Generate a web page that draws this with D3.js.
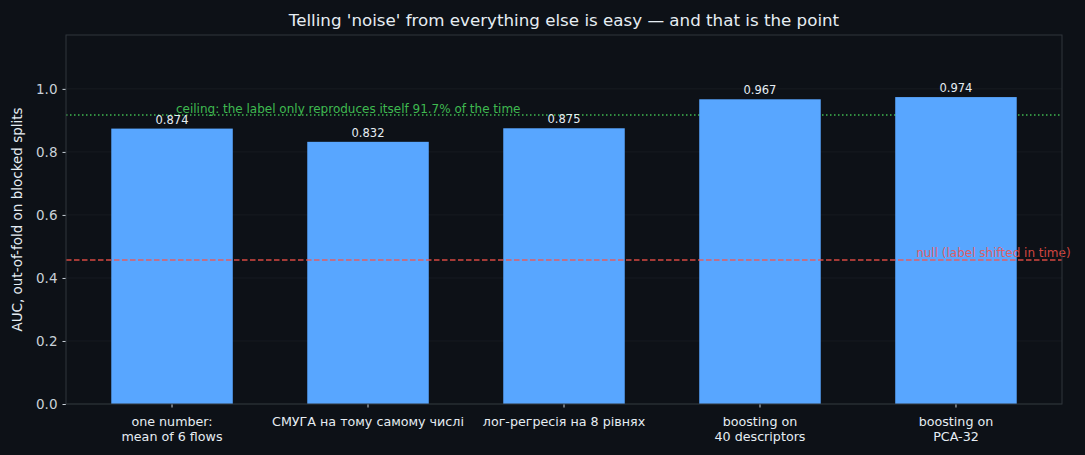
<!DOCTYPE html>
<html>
<head>
<meta charset="utf-8">
<script src="https://cdn.jsdelivr.net/npm/d3@7"></script>
<style>
  html, body { margin: 0; padding: 0; background: #0d1117; }
  svg { display: block; font-family: "DejaVu Sans", sans-serif; }
</style>
</head>
<body>
<div id="chart"></div>
<script>
// data
var categories = [
    "one number:\nmean of 6 flows",
    "СМУГА на тому самому числі",
    "лог-регресія на 8 рівнях",
    "boosting on\n40 descriptors",
    "boosting on\nPCA-32"
];
var aucValues = [0.874, 0.832, 0.875, 0.967, 0.974];
var yTicks = [0.0, 0.2, 0.4, 0.6, 0.8, 1.0];
var ceilingValue = 0.917;
var nullValue = 0.457;
var ceilingText = "ceiling: the label only reproduces itself 91.7% of the time";
var nullText = "null (label shifted in time)";
var titleText = "Telling 'noise' from everything else is easy \u2014 and that is the point";
var yLabelText = "AUC, out-of-fold on blocked splits";

var svgWidth = 1085;
var svgHeight = 455;

var margin = { top: 35, right: 23, bottom: 51, left: 66 };
var width = svgWidth - margin.left - margin.right;
var height = svgHeight - margin.top - margin.bottom;

var svg = d3.select("#chart")
    .append("svg")
    .attr("width", svgWidth)
    .attr("height", svgHeight);

svg.append("rect")
    .attr("width", svgWidth)
    .attr("height", svgHeight)
    .attr("fill", "#0d1117");

var chartGroup = svg.append("g")
    .attr("transform", `translate(${margin.left}, ${margin.top})`);

// bar width 0.62 with 5% margin each side, like matplotlib
var barW = 0.62;
var pad = (categories.length - 1 + barW) * 0.05;
var xScale = d3.scaleLinear()
    .domain([-barW / 2 - pad, categories.length - 1 + barW / 2 + pad])
    .range([0, width]);

var yScale = d3.scaleLinear()
    .domain([0, 1.171])
    .range([height, 0]);

// grid
chartGroup.selectAll(".grid")
    .data(yTicks)
    .enter()
    .append("line")
    .attr("x1", 0)
    .attr("x2", width)
    .attr("y1", d => yScale(d))
    .attr("y2", d => yScale(d))
    .attr("stroke", "#21262d")
    .attr("stroke-opacity", 0.6)
    .attr("stroke-width", 0.8);

// ceiling line sits behind the bars
chartGroup.append("line")
    .attr("x1", 0)
    .attr("x2", width)
    .attr("y1", yScale(ceilingValue))
    .attr("y2", yScale(ceilingValue))
    .attr("stroke", "#3fb950")
    .attr("stroke-width", 1.5)
    .attr("stroke-dasharray", "1.5,2.5");

chartGroup.selectAll(".bar")
    .data(aucValues)
    .enter()
    .append("rect")
    .attr("x", (d, i) => xScale(i - barW / 2))
    .attr("width", xScale(barW) - xScale(0))
    .attr("y", d => yScale(d))
    .attr("height", d => height - yScale(d))
    .attr("fill", "#58a6ff");

chartGroup.selectAll(".barLabel")
    .data(aucValues)
    .enter()
    .append("text")
    .attr("x", (d, i) => xScale(i))
    .attr("y", d => yScale(d) - 5)
    .attr("text-anchor", "middle")
    .attr("font-size", "11.5px")
    .attr("fill", "#e6edf3")
    .text(d => d.toFixed(3));

chartGroup.append("text")
    .attr("x", xScale(0.02))
    .attr("y", yScale(ceilingValue) - 2)
    .attr("font-size", "12px")
    .attr("fill", "#3fb950")
    .text(ceilingText);

// null line drawn over the bars
chartGroup.append("line")
    .attr("x1", 0)
    .attr("x2", width)
    .attr("y1", yScale(nullValue))
    .attr("y2", yScale(nullValue))
    .attr("stroke", "#f85149")
    .attr("stroke-opacity", 0.85)
    .attr("stroke-width", 1.5)
    .attr("stroke-dasharray", "5.5,2.5");

chartGroup.append("text")
    .attr("x", xScale(4.585))
    .attr("y", yScale(nullValue) - 3)
    .attr("text-anchor", "end")
    .attr("font-size", "12px")
    .attr("fill", "#f85149")
    .attr("fill-opacity", 0.85)
    .text(nullText);

// axes
var leftAxis = d3.axisLeft(yScale)
    .tickValues(yTicks)
    .tickFormat(d3.format(".1f"))
    .tickSize(3.5)
    .tickPadding(5);

var yAxis = chartGroup.append("g").call(leftAxis);
yAxis.select(".domain").remove();
yAxis.selectAll("line").attr("stroke", "#c9d1d9");
yAxis.selectAll("text")
    .attr("fill", "#c9d1d9")
    .attr("font-size", "13.5px")
    .attr("font-family", "DejaVu Sans");

var xAxis = chartGroup.append("g")
    .attr("transform", `translate(0, ${height})`);
xAxis.selectAll("line")
    .data(categories)
    .enter()
    .append("line")
    .attr("x1", (d, i) => xScale(i))
    .attr("x2", (d, i) => xScale(i))
    .attr("y1", 0)
    .attr("y2", 3.5)
    .attr("stroke", "#c9d1d9");

xAxis.selectAll("text")
    .data(categories)
    .enter()
    .append("text")
    .attr("x", (d, i) => xScale(i))
    .attr("y", 22)
    .attr("text-anchor", "middle")
    .attr("font-size", "12.7px")
    .attr("fill", "#e6edf3")
    .each(function(d) {
        var lines = d.split("\n");
        var t = d3.select(this);
        lines.forEach(function(l, k) {
            t.append("tspan")
                .attr("x", t.attr("x"))
                .attr("dy", k === 0 ? 0 : "1.17em")
                .text(l);
        });
    });

// frame
chartGroup.append("rect")
    .attr("x", 0)
    .attr("y", 0)
    .attr("width", width)
    .attr("height", height)
    .attr("fill", "none")
    .attr("stroke", "#30363d")
    .attr("stroke-width", 1);

svg.append("text")
    .attr("transform", `translate(22, ${margin.top + height / 2}) rotate(-90)`)
    .attr("text-anchor", "middle")
    .attr("font-size", "13.5px")
    .attr("fill", "#e6edf3")
    .text(yLabelText);

svg.append("text")
    .attr("x", margin.left + width / 2)
    .attr("y", 26)
    .attr("text-anchor", "middle")
    .attr("font-size", "16.7px")
    .attr("fill", "#e6edf3")
    .text(titleText);
</script>
</body>
</html>
